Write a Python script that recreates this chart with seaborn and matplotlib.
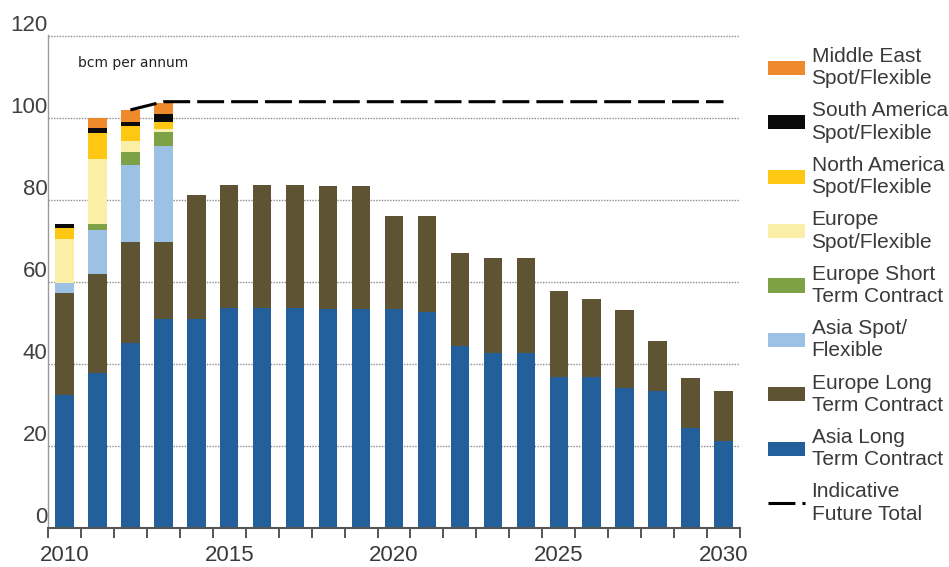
import numpy as np
import pandas as pd
import matplotlib
matplotlib.use("Agg")
import matplotlib.pyplot as plt
from matplotlib.patches import Patch
from matplotlib.lines import Line2D
import seaborn as sns

# LNG contracted / flexible volumes, bcm per annum
years = [2010, 2011, 2012, 2013, 2014, 2015, 2016, 2017, 2018, 2019, 2020,
         2021, 2022, 2023, 2024, 2025, 2026, 2027, 2028, 2029, 2030]

asia_long_term = [32.4, 37.7, 45.1, 51.0, 51.0, 53.7, 53.7, 53.7, 53.3, 53.3, 53.3,
                  52.7, 44.3, 42.6, 42.6, 36.7, 36.7, 34.1, 33.5, 24.3, 21.2]
europe_long_term = [24.8, 24.3, 24.6, 18.7, 30.2, 30.0, 30.0, 30.0, 30.0, 30.0, 22.7,
                    23.3, 22.8, 23.3, 23.3, 21.1, 19.0, 19.1, 12.1, 12.3, 12.3]
asia_spot = [2.6, 10.7, 18.8, 23.5, 0, 0, 0, 0, 0, 0, 0,
             0, 0, 0, 0, 0, 0, 0, 0, 0, 0]
europe_short_term = [0.0, 1.5, 3.2, 3.2, 0, 0, 0, 0, 0, 0, 0,
                     0, 0, 0, 0, 0, 0, 0, 0, 0, 0]
europe_spot = [10.6, 15.7, 2.5, 0.8, 0, 0, 0, 0, 0, 0, 0,
               0, 0, 0, 0, 0, 0, 0, 0, 0, 0]
north_america_spot = [2.6, 6.3, 3.8, 1.7, 0, 0, 0, 0, 0, 0, 0,
                      0, 0, 0, 0, 0, 0, 0, 0, 0, 0]
south_america_spot = [1.0, 1.2, 1.0, 1.9, 0, 0, 0, 0, 0, 0, 0,
                      0, 0, 0, 0, 0, 0, 0, 0, 0, 0]
middle_east_spot = [0.0, 2.6, 2.9, 2.8, 0, 0, 0, 0, 0, 0, 0,
                    0, 0, 0, 0, 0, 0, 0, 0, 0, 0]

# Indicative future total
total_years = [2012, 2013, 2030]
total_values = [101.9, 103.9, 103.9]

tick_years = [2010, 2015, 2020, 2025, 2030]
y_ticks = [0, 20, 40, 60, 80, 100, 120]

# stacking order, bottom to top
layers = [
    ("Asia Long\nTerm Contract", "#23609b", asia_long_term),
    ("Europe Long\nTerm Contract", "#5e5434", europe_long_term),
    ("Asia Spot/\nFlexible", "#9dc0e5", asia_spot),
    ("Europe Short\nTerm Contract", "#7fa146", europe_short_term),
    ("Europe\nSpot/Flexible", "#fbefa8", europe_spot),
    ("North America\nSpot/Flexible", "#fdc713", north_america_spot),
    ("South America\nSpot/Flexible", "#0b0b0b", south_america_spot),
    ("Middle East\nSpot/Flexible", "#ee8a2b", middle_east_spot),
]

sns.set_style("white")
plt.rcParams["font.family"] = ["Liberation Sans", "DejaVu Sans"]

fig = plt.figure(figsize=(9.49, 5.67), dpi=100)
ax = fig.add_axes([48 / 949, 39 / 567, 692 / 949, 494 / 567])

# cumulative tops of each layer; draw tallest first so lower layers cover them
df = pd.DataFrame({"year": years})
running = np.zeros(len(years))
tops = []
for label, color, values in layers:
    running = running + np.asarray(values, dtype=float)
    tops.append(running.copy())

for (label, color, values), top in reversed(list(zip(layers, tops))):
    df["top"] = top
    sns.barplot(data=df, x="year", y="top", color=color, native_scale=True,
                width=0.56, saturation=1, linewidth=0, errorbar=None, ax=ax)

sns.lineplot(x=total_years, y=total_values, color="black", linewidth=2.2,
             linestyle=(0, (8.8, 2.3)), ax=ax, zorder=5)

ax.set_xlim(2009.5, 2030.5)
ax.set_ylim(0, 120.4)
ax.set_xlabel("")
ax.set_ylabel("")

# y axis: dotted grid lines with labels sitting on top of them
ax.set_yticks(y_ticks)
ax.set_yticklabels([str(v) for v in y_ticks])
ax.yaxis.grid(True, linestyle=(0, (1, 1)), color="#8c8c8c", linewidth=1.0)
ax.set_axisbelow(True)
ax.tick_params(axis="y", length=13, width=1.0, color="#9a9a9a", pad=-12.5,
               labelsize=16, labelcolor="#404040")
for lbl in ax.get_yticklabels():
    lbl.set_va("bottom")

# x axis: ticks between bars, labels every five years
ax.set_xticks(tick_years)
ax.set_xticklabels([str(y) for y in tick_years])
ax.set_xticks(np.arange(2009.5, 2031, 1.0), minor=True)
ax.tick_params(axis="x", which="major", length=0, pad=12, labelsize=16,
               labelcolor="#3a3a3a")
ax.tick_params(axis="x", which="minor", length=7, width=1.4, color="#555555",
               direction="out", bottom=True)
ax.xaxis.grid(False)

for side in ("top", "right"):
    ax.spines[side].set_visible(False)
ax.spines["bottom"].set_color("#555555")
ax.spines["bottom"].set_linewidth(1.5)
ax.spines["left"].set_color("#9a9a9a")
ax.spines["left"].set_linestyle((0, (1, 1)))
ax.spines["left"].set_linewidth(1.0)

ax.text(2010.41, 113.4, "bcm per annum", fontsize=10, family="DejaVu Sans",
        color="#222222", ha="left", va="center")

# legend, top layer first
handles = [Patch(facecolor=c, edgecolor="none", label=l) for l, c, _ in reversed(layers)]
handles.append(Line2D([0], [0], color="black", linewidth=2.2,
                      linestyle=(0, (8.8, 2.3)), label="Indicative\nFuture Total"))
leg = fig.legend(handles=handles, loc="upper left", bbox_to_anchor=(768 / 949, 1 - 47 / 567),
                 frameon=False, fontsize=15, handlelength=1.76, handleheight=0.67,
                 handletextpad=0.33, labelspacing=0.63, borderpad=0, borderaxespad=0)
for t in leg.get_texts():
    t.set_color("#3a3a3a")
    t.set_linespacing(1.22)

fig.savefig("out.png", dpi=100)
